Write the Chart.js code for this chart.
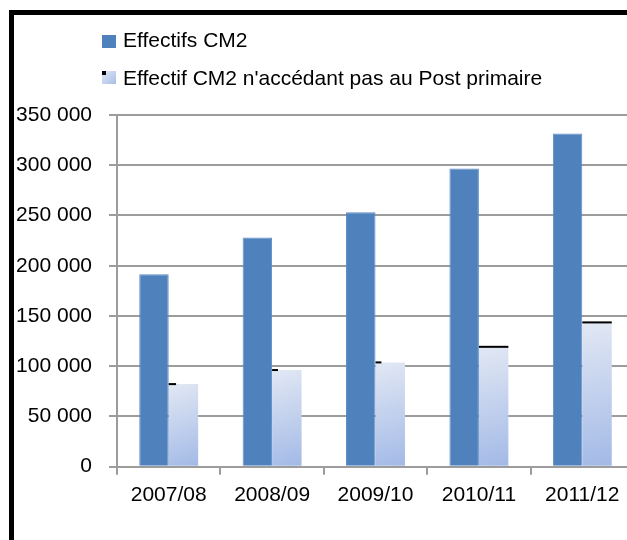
<!DOCTYPE html>
<html>
<head>
<meta charset="utf-8">
<script src="https://cdn.jsdelivr.net/npm/chart.js@4.4.1/dist/chart.umd.min.js"></script>
<style>
    html, body { margin: 0; padding: 0; background: #fff; overflow: hidden; width: 627px; height: 540px; }
    #frame { position: absolute; left: 9px; top: 10px; width: 700px; height: 600px; border-left: 5px solid #000; border-top: 5px solid #000; }
    #chart { position: absolute; left: 0; top: 0; }
    .item { position: absolute; left: 102px; height: 24px; font: 21px 'Liberation Sans', Arial, sans-serif; line-height: 24px; color: #000; white-space: nowrap; }
    .item .sw { position: absolute; left: 0; width: 14px; height: 13px; }
    .item .txt { position: absolute; left: 21px; top: 0; }
    .sw.dark { background: #4f81bd; }
    .sw.light { background: linear-gradient(135deg, #e2e8f4, #a9bee6); }
    .sw.light::before { content: ''; position: absolute; left: 0; top: 0; width: 4px; height: 4px; background: #000; }
</style>
</head>
<body>
<div id="frame"></div>
<canvas id="chart" width="640" height="540"></canvas>
<div class="item" style="top:28px"><span class="sw dark" style="top:7px"></span><span class="txt" id="lab0"></span></div>
<div class="item" style="top:66px"><span class="sw light" style="top:5px"></span><span class="txt" id="lab1"></span></div>
<script>
// Data
const categories = ['2007/08', '2008/09', '2009/10', '2010/11', '2011/12'];
const seriesLabels = ['Effectifs CM2', "Effectif CM2 n'accédant pas au Post primaire"];
const effectifsCM2 = [191600, 228200, 253100, 296700, 331500];
const nonAccedants = [82200, 96200, 103800, 119300, 143600];
const yTicks = [0, 50000, 100000, 150000, 200000, 250000, 300000, 350000];

// style: length of the black dash on top of the light bars (fraction of bar width)
const dashFraction = [0.25, 0.2, 0.2, 1, 1];

const GRID = '#9c9c9c';
const DARK = '#4f81bd';

Chart.defaults.font.family = "'Liberation Sans', Arial, sans-serif";
Chart.defaults.font.size = 21;
Chart.defaults.color = '#000';

document.getElementById('lab0').textContent = seriesLabels[0];
document.getElementById('lab1').textContent = seriesLabels[1];

function formatThousands(v) {
    return String(v).replace(/\B(?=(\d{3})+(?!\d))/g, ' ');
}

// per-bar gradient for the light series
function lightFill(c) {
    const chart = c.chart;
    if (c.type !== 'data' || !chart.chartArea || !chart.scales.y) return '#c3d1ee';
    const y = chart.scales.y.getPixelForValue(c.raw);
    const base = chart.scales.y.getPixelForValue(0);
    const xc = chart.scales.x.getPixelForValue(c.dataIndex);
    const g = chart.ctx.createLinearGradient(xc, y, xc + 30, base);
    g.addColorStop(0, '#e2e8f4');
    g.addColorStop(1, '#a2b9e6');
    return g;
}

const dashPlugin = {
    id: 'topDash',
    afterDatasetsDraw(chart) {
        const meta = chart.getDatasetMeta(1);
        const ctx = chart.ctx;
        ctx.save();
        ctx.fillStyle = '#000';
        meta.data.forEach((bar, i) => {
            ctx.fillRect(bar.x - bar.width / 2, bar.y - 1, bar.width * dashFraction[i], 2);
        });
        ctx.restore();
    }
};

new Chart(document.getElementById('chart'), {
    type: 'bar',
    data: {
        labels: categories,
        datasets: [
            {
                label: seriesLabels[0],
                data: effectifsCM2,
                backgroundColor: DARK,
                borderColor: '#5b8bc4',
                borderWidth: 1,
                borderSkipped: 'bottom'
            },
            {
                label: seriesLabels[1],
                data: nonAccedants,
                backgroundColor: lightFill,
                borderWidth: 0
            }
        ]
    },
    options: {
        responsive: false,
        animation: false,
        categoryPercentage: 0.57,
        barPercentage: 1,
        layout: { padding: { top: 115, left: 0, right: 6, bottom: 0 } },
        plugins: {
            legend: { display: false },
            tooltip: { enabled: false }
        },
        scales: {
            x: {
                afterFit: s => { s.height = 73.3; },
                grid: { offset: true, drawOnChartArea: false, drawTicks: true, tickLength: 8, color: GRID, lineWidth: 2 },
                border: { display: true, color: GRID, width: 2 },
                ticks: { padding: 8, maxRotation: 0 }
            },
            y: {
                min: 0,
                max: 350000,
                afterFit: s => { s.width = 117; },
                afterBuildTicks: s => { s.ticks = yTicks.map(v => ({ value: v })); },
                grid: { color: GRID, lineWidth: 2, drawTicks: true, tickLength: 8 },
                border: { display: true, color: GRID, width: 2 },
                ticks: { padding: 17, callback: v => formatThousands(v) }
            }
        }
    },
    plugins: [dashPlugin]
});
</script>
</body>
</html>
